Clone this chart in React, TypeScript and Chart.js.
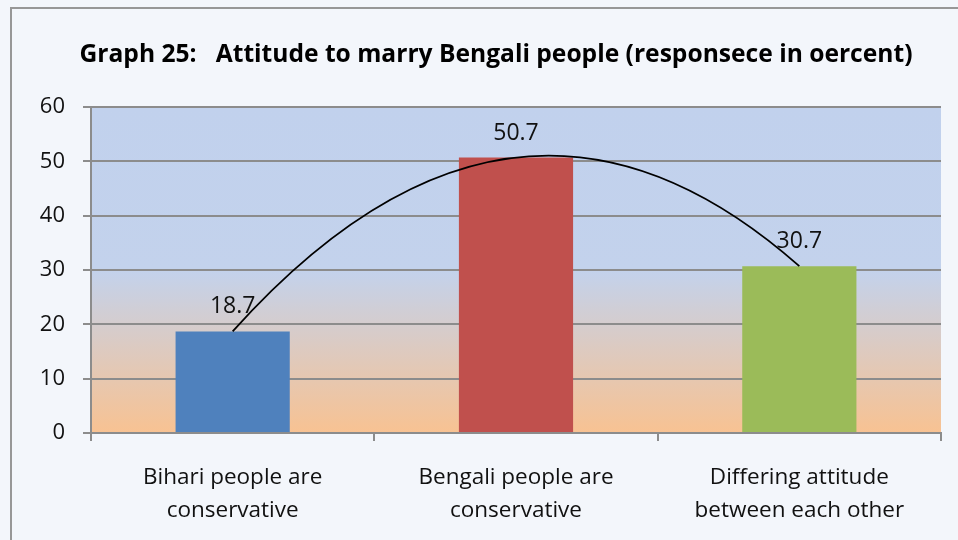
import React, { useEffect, useRef } from "react";
import { Chart, registerables } from "chart.js";

Chart.register(...registerables);

// Chart content
const titleText = "Graph 25:   Attitude to marry Bengali people (responsece in oercent)";
const categories: string[][] = [
  ["Bihari people are", "conservative"],
  ["Bengali people are", "conservative"],
  ["Differing attitude", "between each other"],
];
const responses: number[] = [18.7, 50.7, 30.7];
const barColors: string[] = ["#4f81bd", "#c0504d", "#9bbb59"];
const yMin = 0;
const yMax = 60;
const yStep = 10;

const FONT = "'Open Sans', 'Noto Sans', sans-serif";
const GRID = "#8c8c8c";

// Page background, outer frame, title and the gradient plot area
const framePlugin = {
  id: "frame",
  beforeDraw(chart: any) {
    const { ctx, width, height, chartArea: a } = chart;
    ctx.save();
    ctx.fillStyle = "#f3f6fb";
    ctx.fillRect(0, 0, width, height);
    ctx.strokeStyle = "#979797";
    ctx.lineWidth = 2;
    ctx.strokeRect(11, 8, width + 40, height + 40);

    ctx.fillStyle = "#000";
    ctx.font = `bold 24.6px ${FONT}`;
    ctx.textAlign = "center";
    ctx.textBaseline = "middle";
    ctx.fillText(titleText, 496, 55);

    const g = ctx.createLinearGradient(0, a.top, 0, a.bottom);
    g.addColorStop(0, "#c1d1ed");
    g.addColorStop(0.5, "#c3d2ec");
    g.addColorStop(1, "#f8c292");
    ctx.fillStyle = g;
    ctx.fillRect(a.left, a.top, a.right - a.left, a.bottom - a.top);
    ctx.restore();
  },
};

// Second-order trend curve through the bar tops, plus value labels
const trendAndLabels = {
  id: "trendAndLabels",
  afterDatasetsDraw(chart: any) {
    const { ctx } = chart;
    const bars = chart.getDatasetMeta(0).data;
    if (bars.length < 3) return;
    const p0 = bars[0], p1 = bars[1], p2 = bars[2];
    // quadratic through three evenly spaced points
    const cx = p1.x;
    const cy = 2 * p1.y - (p0.y + p2.y) / 2;
    ctx.save();
    ctx.beginPath();
    ctx.moveTo(p0.x, p0.y);
    ctx.quadraticCurveTo(cx, cy, p2.x, p2.y);
    ctx.strokeStyle = "#000";
    ctx.lineWidth = 1.8;
    ctx.stroke();

    ctx.fillStyle = "#111";
    ctx.font = `23px ${FONT}`;
    ctx.textAlign = "center";
    ctx.textBaseline = "alphabetic";
    bars.forEach((b: any, i: number) => {
      ctx.fillText(String(responses[i]), b.x, b.y - 18);
    });
    ctx.restore();
  },
};

export default function App() {
  const ref = useRef<HTMLCanvasElement | null>(null);

  useEffect(() => {
    if (!ref.current) return;
    const chart = new Chart(ref.current, {
      type: "bar",
      data: {
        labels: categories,
        datasets: [
          {
            data: responses,
            backgroundColor: barColors,
            borderWidth: 0,
            barPercentage: 0.403,
            categoryPercentage: 1,
          },
        ],
      },
      options: {
        responsive: false,
        animation: false,
        devicePixelRatio: 1,
        layout: { padding: { left: 0, right: 17, top: 107, bottom: 0 } },
        plugins: {
          legend: { display: false },
          tooltip: { enabled: false },
          title: { display: false },
        },
        scales: {
          x: {
            grid: {
              offset: true,
              drawOnChartArea: false,
              drawTicks: true,
              tickLength: 8,
              color: GRID,
              lineWidth: 2,
            },
            border: { display: true, color: GRID, width: 2 },
            ticks: {
              color: "#111",
              font: { family: FONT, size: 22.5, lineHeight: 1.47 },
              padding: 20,
              maxRotation: 0,
              autoSkip: false,
            },
            afterFit(s: any) {
              s.height = 107;
            },
          },
          y: {
            min: yMin,
            max: yMax,
            grid: { color: GRID, lineWidth: 2, tickLength: 8, drawTicks: true },
            border: { display: true, color: GRID, width: 2 },
            ticks: {
              stepSize: yStep,
              color: "#111",
              font: { family: FONT, size: 22 },
              padding: 18,
            },
            afterFit(s: any) {
              s.width = 91;
            },
          },
        },
      },
      plugins: [framePlugin, trendAndLabels],
    });
    return () => chart.destroy();
  }, []);

  return (
    <div style={{ position: "fixed", left: 0, top: 0, width: 958, height: 540 }}>
      <canvas ref={ref} width={958} height={540} style={{ width: 958, height: 540, display: "block" }} />
    </div>
  );
}
